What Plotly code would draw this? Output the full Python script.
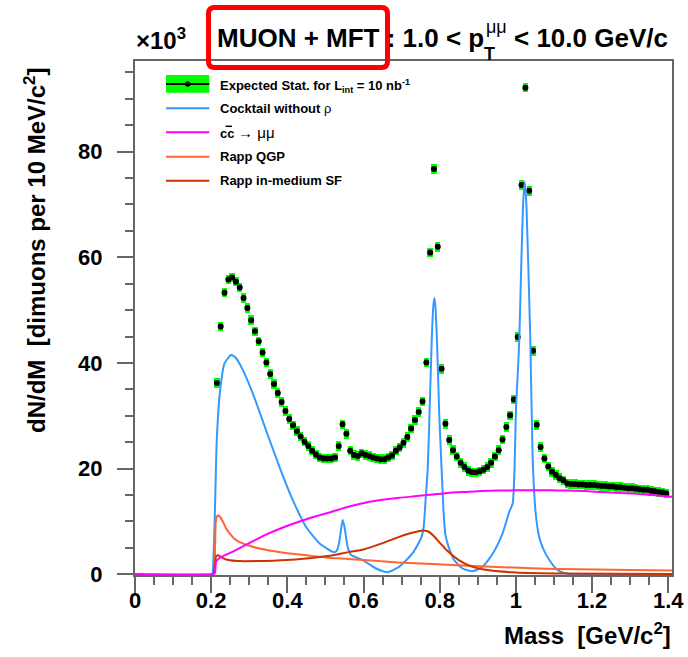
import plotly.graph_objects as go

# ---------------- data (values in units of 10^3) ----------------
counts = [
    36.2, 46.9, 53.3, 55.8, 56.2, 55.4, 54.3, 52.3, 50.4, 48.1,
    46.0, 44.1, 42.0, 40.1, 37.9, 36.0, 34.3, 32.6, 30.9, 29.4,
    28.2, 27.1, 26.1, 25.1, 24.3, 23.4, 22.7, 22.1, 21.9, 21.9,
    21.9, 22.1, 24.3, 28.4, 26.6, 23.4, 22.6, 22.4, 22.9, 22.6,
    22.4, 22.1, 21.9, 21.8, 21.8, 22.1, 22.5, 23.4, 24.0, 24.9,
    26.0, 27.6, 29.2, 30.7, 32.7, 40.1, 60.9, 76.7, 62.0, 38.9,
    28.5, 25.4, 23.5, 22.3, 21.1, 20.3, 19.6, 19.3, 19.3, 19.5,
    19.8, 20.3, 21.1, 22.3, 23.5, 25.5, 27.9, 30.1, 33.1, 44.9,
    73.7, 92.1, 72.6, 42.3, 28.3, 24.1, 21.9, 20.4, 19.4, 18.8,
    18.2, 17.8, 17.2, 17.1, 17.1, 17.0, 17.0, 16.9, 16.9, 16.9,
    16.8, 16.7, 16.7, 16.6, 16.6, 16.5, 16.5, 16.4, 16.3, 16.3,
    16.2, 16.1, 16.0, 16.0, 15.8, 15.7, 15.6, 15.5, 15.3,
]
first_bin_center = 0.215
bin_width = 0.01
mass = [round(first_bin_center + bin_width * i, 3) for i in range(len(counts))]

cocktail_m = [0.0, 0.2, 0.2026, 0.2087, 0.2147, 0.2236, 0.235, 0.2525, 0.2656, 0.283,
              0.309, 0.344, 0.379, 0.414, 0.449, 0.484, 0.521, 0.530, 0.536, 0.541,
              0.5454, 0.550, 0.554, 0.559, 0.5675, 0.598, 0.633, 0.6635, 0.694, 0.729,
              0.752, 0.758, 0.762, 0.7686, 0.774, 0.779, 0.783, 0.786, 0.789, 0.793,
              0.799, 0.805, 0.810, 0.815, 0.820, 0.828, 0.838, 0.860, 0.887, 0.912,
              0.940, 0.9654, 0.983, 0.9916, 0.9965, 1.0005, 1.005, 1.009, 1.014, 1.019,
              1.023, 1.027, 1.032, 1.038, 1.044, 1.049, 1.053, 1.060, 1.066, 1.076,
              1.088, 1.100, 1.110, 1.125, 1.140, 1.20, 1.30, 1.41]
cocktail_v = [0.0, 0.0, 0.0, 9.0, 25.4, 34.9, 39.9, 41.5, 40.9, 38.7,
              34.3, 27.3, 20.4, 14.1, 9.0, 5.9, 4.2, 4.5, 6.0, 8.5,
              10.3, 9.0, 7.1, 5.0, 3.65, 2.7, 1.1, 0.4, 1.45, 4.0,
              7.0, 9.0, 13.0, 20.0, 32.0, 44.0, 50.5, 52.3, 50.5, 44.0,
              30.0, 20.0, 12.0, 7.5, 6.0, 4.3, 2.7, 1.1, 0.6, 1.4,
              4.0, 7.8, 11.9, 13.4, 20.0, 31.7, 38.0, 44.3, 58.0, 70.0,
              74.3, 71.0, 60.0, 44.3, 22.3, 14.5, 10.9, 7.5, 5.9, 4.2,
              2.7, 1.5, 0.8, 0.3, 0.05, 0.0, 0.0, 0.0]

charm_m = [0.0, 0.205, 0.21, 0.213, 0.22, 0.257, 0.30, 0.344, 0.39, 0.432,
           0.48, 0.519, 0.56, 0.607, 0.65, 0.694, 0.74, 0.782, 0.82, 0.869,
           0.91, 0.957, 1.00, 1.044, 1.09, 1.132, 1.18, 1.219, 1.26, 1.307,
           1.35, 1.41]
charm_v = [0.0, 0.0, 0.3, 2.4, 3.0, 4.3, 5.9, 7.5, 8.9, 10.0,
           11.1, 11.9, 12.8, 13.6, 14.1, 14.5, 14.8, 15.1, 15.4, 15.6,
           15.75, 15.85, 15.9, 15.9, 15.9, 15.85, 15.75, 15.6, 15.45, 15.3,
           15.05, 14.7]

qgp_m = [0.0, 0.205, 0.21, 0.213, 0.218, 0.224, 0.232, 0.24, 0.25, 0.26,
         0.275, 0.30, 0.34, 0.40, 0.45, 0.50, 0.56, 0.62, 0.69, 0.78,
         0.86, 0.95, 1.04, 1.12, 1.21, 1.30, 1.41]
qgp_v = [0.0, 0.0, 5.0, 10.5, 11.2, 10.8, 9.8, 8.6, 7.6, 6.8,
         6.1, 5.4, 4.7, 4.0, 3.6, 3.2, 2.9, 2.6, 2.25, 1.95,
         1.65, 1.4, 1.15, 1.0, 0.9, 0.82, 0.72]

sf_m = [0.0, 0.205, 0.209, 0.213, 0.218, 0.224, 0.232, 0.245, 0.27, 0.32,
        0.40, 0.45, 0.50, 0.52, 0.56, 0.60, 0.65, 0.69, 0.73, 0.755,
        0.77, 0.785, 0.80, 0.818, 0.85, 0.885, 0.93, 1.00, 1.13, 1.41]
sf_v = [0.0, 0.0, 1.5, 3.4, 3.6, 3.4, 3.0, 2.7, 2.5, 2.5,
        2.7, 3.0, 3.4, 3.6, 4.2, 4.7, 5.9, 7.0, 7.9, 8.3,
        8.1, 7.2, 6.0, 4.6, 2.7, 1.45, 0.75, 0.35, 0.15, 0.05]

legend_labels = [
    "Expected Stat. for L<sub>int</sub> = 10 nb<sup>-1</sup>",
    "Cocktail without <span style='font-weight:normal'>ρ</span>",
    "cc <span style='font-weight:normal;font-size:15px'>→ μμ</span>",
    "Rapp QGP",
    "Rapp in-medium SF",
]
x_title = "Mass  [GeV/c<sup>2</sup>]"
y_title = "dN/dM  [dimuons per 10 MeV/c<sup>2</sup>]"

# ---------------- style ----------------
C_BLUE = "#3399ff"
C_MAG = "#ff00ff"
C_QGP = "#ff6633"
C_SF = "#cc3300"
C_GREEN = "#00ff00"
AX = "#666666"
FONT = "Liberation Sans"
ERR = 0.9  # half height of the green stat-error boxes

W, H = 688, 657
L, R, T, B = 135, 16, 61, 82
PW, PH = W - L - R, H - T - B


def X(px):
    return (px - L) / PW


def Y(py):
    return (H - B - py) / PH


fig = go.Figure()

# stat error boxes
fig.add_trace(go.Bar(
    x=mass, y=[2 * ERR] * len(counts), base=[c - ERR for c in counts],
    width=0.014, marker=dict(color=C_GREEN, line=dict(width=0)),
    showlegend=False, hoverinfo="skip"))
# data points
fig.add_trace(go.Scatter(
    x=mass, y=counts, mode="markers",
    marker=dict(color="black", size=6, line=dict(width=0)),
    showlegend=False))

for xs, ys, col in [(cocktail_m, cocktail_v, C_BLUE), (qgp_m, qgp_v, C_QGP),
                    (sf_m, sf_v, C_SF), (charm_m, charm_v, C_MAG)]:
    fig.add_trace(go.Scatter(x=xs, y=ys, mode="lines",
                             line=dict(color=col, width=2, shape="spline", smoothing=0.6),
                             showlegend=False, hoverinfo="skip"))

ann = []


def add_text(text, px, py, size, xanchor="left", yanchor="bottom", bold=True, angle=0):
    ann.append(dict(
        text=text, x=X(px), y=Y(py), xref="paper", yref="paper",
        xanchor=xanchor, yanchor=yanchor, showarrow=False, textangle=angle,
        font=dict(family=FONT, size=size, color="black",
                  weight="bold" if bold else "normal")))


# title pieces
add_text("MUON + MFT : 1.0 < p", 214.6, 55, 26)
add_text("T", 481.5, 66, 18)
add_text("μμ", 483.5, 39, 18, bold=False)
add_text("< 10.0 GeV/c", 511.5, 55, 26)
# exponent
add_text("×10<sup>3</sup>", 134, 56, 24)
# axis titles
add_text(x_title, 673, 651, 24, xanchor="right", yanchor="bottom")
add_text(y_title, 35, 251, 24, xanchor="center", yanchor="middle", angle=-90)

# legend
shapes = []
leg_y = [84, 108.3, 132.3, 156.7, 180.7]
leg_cols = [None, C_BLUE, C_MAG, C_QGP, C_SF]
sx0, sx1 = 166, 209.3
shapes.append(dict(type="rect", xref="paper", yref="paper", x0=X(sx0), x1=X(sx1),
                   y0=Y(92.7), y1=Y(75), fillcolor=C_GREEN, line=dict(width=0)))
shapes.append(dict(type="line", xref="paper", yref="paper", x0=X(sx0), x1=X(sx1),
                   y0=Y(leg_y[0]), y1=Y(leg_y[0]), line=dict(color="black", width=2)))
shapes.append(dict(type="circle", xref="paper", yref="paper", x0=X(185), x1=X(190.4),
                   y0=Y(86.7), y1=Y(81.3), fillcolor="black", line=dict(width=0)))
for yy, col in zip(leg_y[1:], leg_cols[1:]):
    shapes.append(dict(type="line", xref="paper", yref="paper", x0=X(sx0), x1=X(sx1),
                       y0=Y(yy), y1=Y(yy), line=dict(color=col, width=2)))
for i, (yy, lab) in enumerate(zip(leg_y, legend_labels)):
    add_text(lab, 218, yy + (1.5 if i == 0 else 0), 13, yanchor="middle")
# overline of c-bar
shapes.append(dict(type="line", xref="paper", yref="paper", x0=X(225.6), x1=X(232),
                   y0=Y(126.3), y1=Y(126.3), line=dict(color="black", width=1.5)))

# red rounded box round "MUON + MFT"
x0, x1, y0, y1, r = 208.5, 387.5, 7.5, 67.5, 6
path = (f"M {X(x0 + r)},{Y(y0)} L {X(x1 - r)},{Y(y0)} Q {X(x1)},{Y(y0)} {X(x1)},{Y(y0 + r)} "
        f"L {X(x1)},{Y(y1 - r)} Q {X(x1)},{Y(y1)} {X(x1 - r)},{Y(y1)} "
        f"L {X(x0 + r)},{Y(y1)} Q {X(x0)},{Y(y1)} {X(x0)},{Y(y1 - r)} "
        f"L {X(x0)},{Y(y0 + r)} Q {X(x0)},{Y(y0)} {X(x0 + r)},{Y(y0)} Z")
shapes.append(dict(type="path", xref="paper", yref="paper", path=path,
                   line=dict(color="#ff0000", width=5)))

tickfont = dict(family=FONT, size=22, color="black", weight="bold")
fig.update_layout(
    width=W, height=H, margin=dict(l=L, r=R, t=T, b=B, autoexpand=False),
    paper_bgcolor="white", plot_bgcolor="white",
    barmode="overlay", bargap=0, showlegend=False,
    annotations=ann, shapes=shapes,
    xaxis=dict(range=[0, 1.41], dtick=0.2, tick0=0, showgrid=False, zeroline=False,
               showline=True, linecolor=AX, linewidth=2, mirror=True,
               ticks="outside", ticklen=16, tickwidth=2, tickcolor=AX,
               minor=dict(dtick=0.05, tick0=0, ticks="outside", ticklen=8,
                          tickwidth=1.5, tickcolor=AX, showgrid=False),
               tickfont=tickfont, ticklabelstandoff=-11,
               layer="below traces", automargin=False),
    yaxis=dict(range=[-0.13, 97.16], dtick=20, tick0=0, showgrid=False, zeroline=False,
               showline=True, linecolor=AX, linewidth=2, mirror=True,
               ticks="outside", ticklen=16, tickwidth=2, tickcolor=AX,
               minor=dict(dtick=5, tick0=0, ticks="outside", ticklen=8,
                          tickwidth=1.5, tickcolor=AX, showgrid=False),
               tickfont=tickfont, ticklabelstandoff=10,
               layer="below traces", automargin=False),
)

fig.write_html("out.html")
